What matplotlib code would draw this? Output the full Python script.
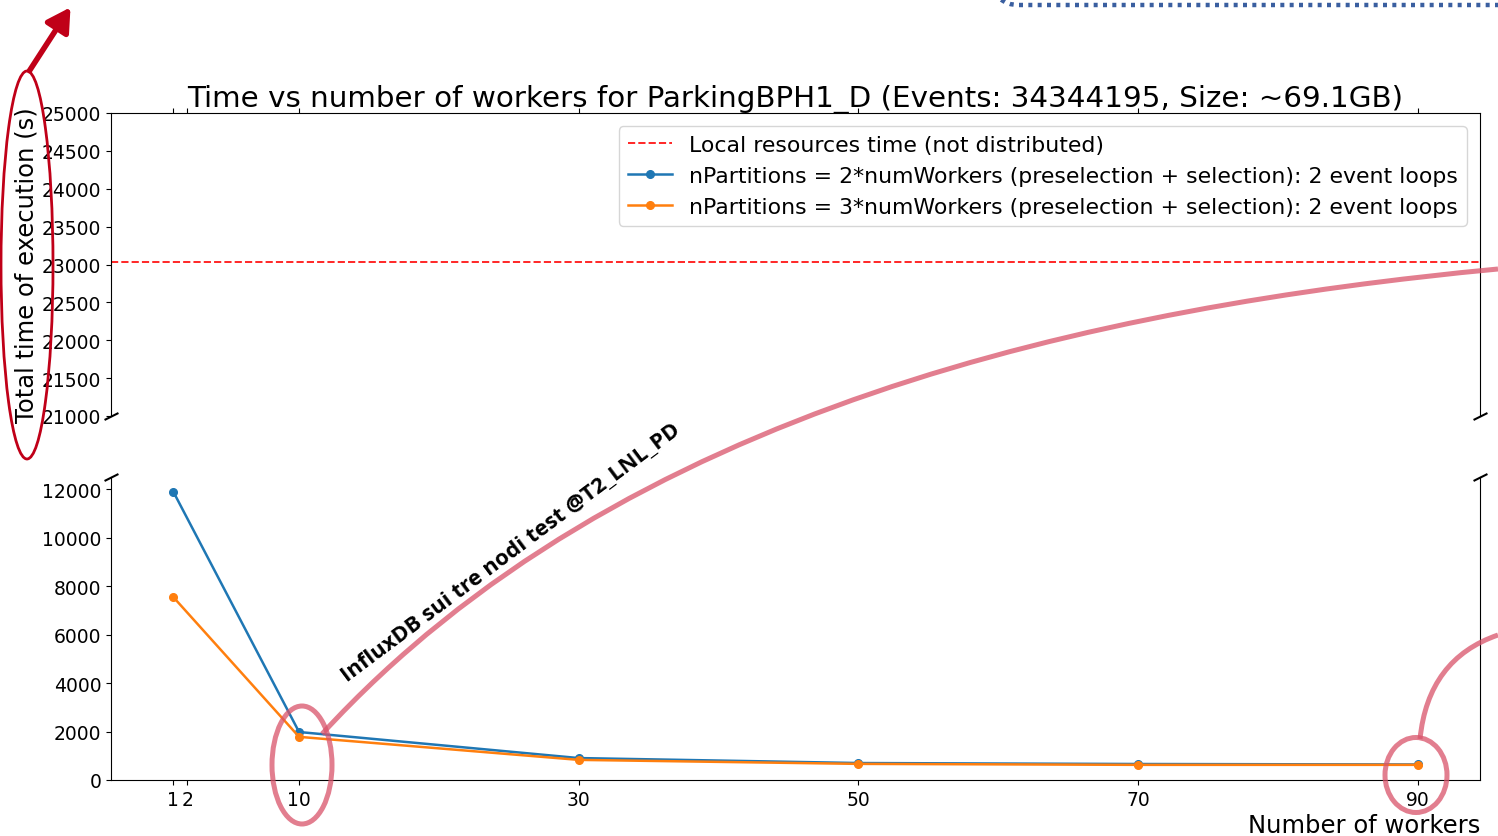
import numpy as np
import matplotlib
matplotlib.use("Agg")
import matplotlib.pyplot as plt
from matplotlib.patches import Ellipse, FancyArrowPatch, FancyBboxPatch, PathPatch
from matplotlib.path import Path

# dati
workers = [1, 10, 30, 50, 70, 90]
time_2x = [11900, 1980, 905, 700, 660, 640]
time_3x = [7550, 1780, 830, 665, 625, 625]
local_time = 23030
xtics = [1, 2, 10, 30, 50, 70, 90]

W, H = 1498, 837
fig = plt.figure(figsize=(W / 100, H / 100), dpi=100)

def px_axes(x0, y0, x1, y1):
    # rettangolo in pixel -> coordinate figura
    return [x0 / W, 1 - y1 / H, (x1 - x0) / W, (y1 - y0) / H]

ax_top = fig.add_axes(px_axes(111, 114, 1480, 417))
ax_bot = fig.add_axes(px_axes(111, 478, 1480, 781), sharex=ax_top)

for ax in (ax_top, ax_bot):
    ax.axhline(local_time, color="red", linestyle="--", linewidth=1.4, alpha=0.85,
               label="Local resources time (not distributed)")
    ax.plot(workers, time_2x, marker="o", markersize=5.5, linewidth=1.8, color="C0",
            label="nPartitions = 2*numWorkers (preselection + selection): 2 event loops")
    ax.plot(workers, time_3x, marker="o", markersize=5.5, linewidth=1.8, color="C1",
            label="nPartitions = 3*numWorkers (preselection + selection): 2 event loops")
    ax.tick_params(labelsize=13.5)

ax_top.set_ylim(21000, 25000)
ax_top.set_yticks(np.arange(21000, 25001, 500))
ax_bot.set_ylim(0, 12500)
ax_bot.set_yticks(np.arange(0, 12001, 2000))

ax_top.spines["bottom"].set_visible(False)
ax_bot.spines["top"].set_visible(False)
ax_top.xaxis.tick_top()
ax_top.tick_params(labeltop=False)
ax_bot.xaxis.tick_bottom()
ax_bot.set_xticks(xtics)
ax_bot.set_xticklabels(xtics)

# segni di interruzione dell'asse
d = 0.5
kw = dict(marker=[(-1, -d), (1, d)], markersize=10, linestyle="none",
          color="k", mec="k", mew=1.5, clip_on=False)
ax_top.plot([0, 1], [0, 0], transform=ax_top.transAxes, **kw)
ax_bot.plot([0, 1], [1, 1], transform=ax_bot.transAxes, **kw)

ax_top.set_title("Time vs number of workers for ParkingBPH1_D (Events: 34344195, Size: ~69.1GB)",
                 fontsize=21.2, pad=5)
ax_top.set_ylabel("Total time of execution (s)", fontsize=17.5, labelpad=2)
ax_bot.set_xlabel("Number of workers", fontsize=17.5, loc="right", labelpad=3)
ax_top.legend(loc="upper right", fontsize=15.8, borderaxespad=0.6)

# livello di annotazioni (in pixel)
ov = fig.add_axes([0, 0, 1, 1], zorder=10)
ov.set_xlim(0, W)
ov.set_ylim(H, 0)
ov.axis("off")
ov.patch.set_alpha(0)

pink = "#D9536A"
ov.add_patch(Ellipse((302, 766), 60, 118, fill=False, ec=pink, lw=3.6, alpha=0.75))
ov.add_patch(Ellipse((1416, 776), 62, 75, fill=False, ec=pink, lw=3.6, alpha=0.75))

curva1 = Path([(322, 735), (622, 408), (1098, 308), (1498, 270)],
              [Path.MOVETO, Path.CURVE4, Path.CURVE4, Path.CURVE4])
ov.add_patch(PathPatch(curva1, fill=False, ec=pink, lw=3.6, alpha=0.75))
curva2 = Path([(1420, 740), (1428, 660), (1498, 636)], [Path.MOVETO, Path.CURVE3, Path.CURVE3])
ov.add_patch(PathPatch(curva2, fill=False, ec=pink, lw=3.6, alpha=0.75))

ov.text(350, 686, "InfluxDB sui tre nodi test @T2_LNL_PD", rotation=36.8,
        rotation_mode="anchor", ha="left", va="bottom", fontsize=15.8,
        fontweight="bold", family=["Open Sans", "DejaVu Sans"], color="black")

darkred = "#C00018"
ov.add_patch(Ellipse((27, 266), 52, 388, fill=False, ec=darkred, lw=2))
ov.add_patch(FancyArrowPatch((28, 74), (72, 6), arrowstyle="-|>,head_length=14,head_width=8",
                             color=darkred, lw=4, mutation_scale=1))

ov.add_patch(FancyBboxPatch((994, -120), 600, 126, boxstyle="round,pad=0,rounding_size=25",
                            fill=False, ec="#3A5FA0", lw=3.2, linestyle=(0, (0.9, 1.2))))

plt.savefig("out.png", dpi=100)
